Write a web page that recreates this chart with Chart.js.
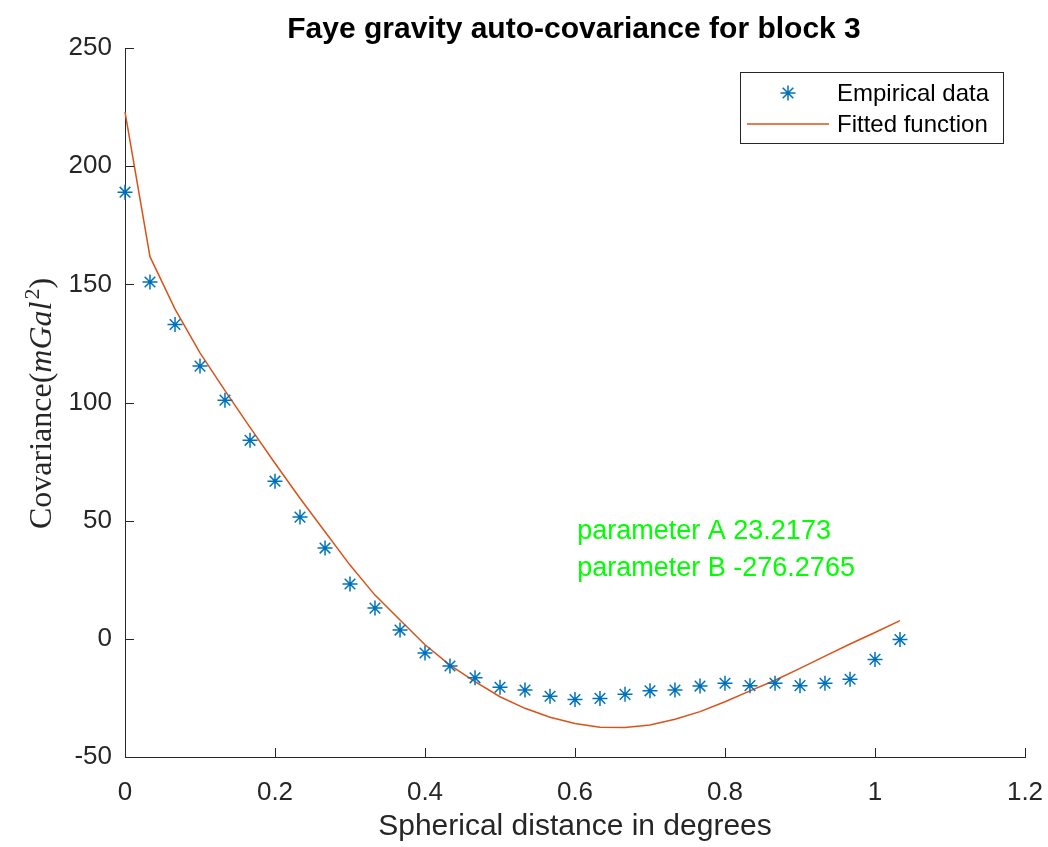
<!DOCTYPE html>
<html>
<head>
<meta charset="utf-8">
<script src="https://cdn.jsdelivr.net/npm/chart.js@4.4.1/dist/chart.umd.min.js"></script>
<style>
  html, body { margin: 0; padding: 0; background: #fff; }
  canvas { display: block; }
</style>
</head>
<body>
<canvas id="covChart" width="1048" height="847"></canvas>
<script>
// spherical distance (degrees)
const distance = [0, 0.0333, 0.0667, 0.1, 0.1333, 0.1667, 0.2, 0.2333, 0.2667, 0.3, 0.3333,
  0.3667, 0.4, 0.4333, 0.4667, 0.5, 0.5333, 0.5667, 0.6, 0.6333, 0.6667, 0.7, 0.7333,
  0.7667, 0.8, 0.8333, 0.8667, 0.9, 0.9333, 0.9667, 1.0, 1.0333];
// empirical covariance (mGal^2)
const empirical = [189, 151, 133, 115.4, 101, 84, 66.7, 51.5, 38.4, 23.2, 13,
  3.7, -6, -11.5, -16.5, -20.5, -21.7, -24.3, -25.7, -25.2, -23.5, -22, -21.7,
  -20, -18.8, -19.8, -18.8, -19.8, -18.8, -17.1, -8.7, -0.3];
// fitted covariance function
const fitted = [223, 161.7, 139.5, 121, 105, 89.5, 74.3, 59.5, 45.3, 31.2, 18.5,
  8, -2.5, -11.1, -18.1, -24.5, -29.4, -33.2, -35.8, -37.4, -37.5, -36.5, -34,
  -30.8, -26.6, -22, -17.5, -12.5, -7.3, -2.2, 2.7, 7.7];
const seriesNames = ['Empirical data', 'Fitted function'];
const params = ['parameter A 23.2173', 'parameter B -276.2765'];
const xTicks = [0, 0.2, 0.4, 0.6, 0.8, 1, 1.2];
const xTickLabels = ['0', '0.2', '0.4', '0.6', '0.8', '1', '1.2'];
const yTicks = [-50, 0, 50, 100, 150, 200, 250];

const AXIS = '#262626';
const toPoints = (ys) => distance.map((d, i) => ({ x: d, y: ys[i] }));

const extras = {
  id: 'extras',
  afterDraw(chart) {
    const { ctx, chartArea: a, scales: { x, y } } = chart;
    const ds = chart.data.datasets;
    ctx.save();

    // inward tick marks
    ctx.strokeStyle = AXIS;
    ctx.lineWidth = 1;
    xTicks.forEach(v => {
      const px = Math.round(x.getPixelForValue(v)) + 0.5;
      ctx.beginPath(); ctx.moveTo(px, a.bottom); ctx.lineTo(px, a.bottom - 9); ctx.stroke();
    });
    yTicks.forEach(v => {
      const py = Math.round(y.getPixelForValue(v)) + 0.5;
      ctx.beginPath(); ctx.moveTo(a.left, py); ctx.lineTo(a.left + 9, py); ctx.stroke();
    });

    // title
    ctx.fillStyle = '#000';
    ctx.font = 'bold 30px "Liberation Sans", Arial, sans-serif';
    ctx.textAlign = 'center';
    ctx.textBaseline = 'alphabetic';
    ctx.fillText('Faye gravity auto-covariance for block 3', (a.left + a.right) / 2 - 1, 38);

    // y axis label with math part
    const parts = [
      { t: 'Covariance(', f: '32px "Liberation Serif", serif', dy: 0 },
      { t: 'mGal', f: 'italic 32px "Liberation Serif", serif', dy: 0 },
      { t: '2', f: '22px "Liberation Serif", serif', dy: -12 },
      { t: ')', f: '32px "Liberation Serif", serif', dy: 0 }
    ];
    let total = 0;
    parts.forEach(p => { ctx.font = p.f; p.w = ctx.measureText(p.t).width; total += p.w; });
    ctx.translate(51, (a.top + a.bottom) / 2 + 2);
    ctx.rotate(-Math.PI / 2);
    ctx.fillStyle = AXIS;
    ctx.textAlign = 'left';
    let cx = -total / 2;
    parts.forEach(p => { ctx.font = p.f; ctx.fillText(p.t, cx, p.dy); cx += p.w + (p.t === 'mGal' ? 2 : 0); });
    ctx.setTransform(1, 0, 0, 1, 0, 0);

    // fit parameters
    ctx.fillStyle = '#00ff00';
    ctx.font = '27px "Liberation Sans", Arial, sans-serif';
    ctx.textAlign = 'left';
    ctx.textBaseline = 'middle';
    const tx = x.getPixelForValue(0.603);
    ctx.fillText(params[0], tx, y.getPixelForValue(45.5));
    ctx.fillText(params[1], tx, y.getPixelForValue(29.8));

    // legend
    const lx = 740, ly = 72, lw = 263, lh = 71;
    ctx.fillStyle = '#fff';
    ctx.fillRect(lx, ly, lw, lh);
    ctx.strokeStyle = AXIS;
    ctx.lineWidth = 1;
    ctx.strokeRect(lx + 0.5, ly + 0.5, lw, lh);
    ctx.strokeStyle = ds[0].borderColor;
    ctx.lineWidth = 1.5;
    Chart.helpers.drawPoint(ctx, { pointStyle: 'star', radius: 7.5, borderWidth: 1.5 }, 788, 93);
    ctx.strokeStyle = ds[1].borderColor;
    ctx.beginPath(); ctx.moveTo(747, 124); ctx.lineTo(829, 124); ctx.stroke();
    ctx.fillStyle = '#000';
    ctx.font = '24px "Liberation Sans", Arial, sans-serif';
    ctx.textBaseline = 'middle';
    ctx.fillText(seriesNames[0], 837, 94);
    ctx.fillText(seriesNames[1], 837, 125);

    ctx.restore();
  }
};

new Chart(document.getElementById('covChart'), {
  type: 'scatter',
  data: {
    datasets: [
      {
        label: seriesNames[0],
        data: toPoints(empirical),
        pointStyle: 'star',
        pointRadius: 7.5,
        pointHoverRadius: 7.5,
        borderColor: '#0072BD',
        backgroundColor: '#0072BD',
        borderWidth: 1.5,
        showLine: false,
        clip: false,
        order: 1
      },
      {
        label: seriesNames[1],
        data: toPoints(fitted),
        borderColor: '#D95319',
        borderWidth: 1.5,
        pointRadius: 0,
        showLine: true,
        tension: 0,
        clip: false,
        order: 2
      }
    ]
  },
  options: {
    responsive: false,
    animation: false,
    devicePixelRatio: 1,
    layout: { padding: { top: 48, right: 23, left: 0, bottom: 0 } },
    plugins: {
      legend: { display: false },
      title: { display: false },
      tooltip: { enabled: false }
    },
    scales: {
      x: {
        type: 'linear',
        min: 0,
        max: 1.2,
        afterBuildTicks: (s) => { s.ticks = xTicks.map(v => ({ value: v })); },
        afterFit: (s) => { s.height = 90; s.paddingLeft = 0; s.paddingRight = 0; },
        ticks: {
          color: AXIS,
          padding: 20,
          callback: (v, i) => xTickLabels[i],
          font: { family: '"Liberation Sans", Arial, sans-serif', size: 26 }
        },
        grid: { display: false, drawTicks: false },
        border: { display: true, color: AXIS, width: 1 },
        title: {
          display: true,
          text: 'Spherical distance in degrees',
          color: AXIS,
          padding: { top: 0, bottom: 2 },
          font: { family: '"Liberation Sans", Arial, sans-serif', size: 30 }
        }
      },
      y: {
        min: -50,
        max: 250,
        afterBuildTicks: (s) => { s.ticks = yTicks.map(v => ({ value: v })); },
        afterFit: (s) => { s.width = 125; s.paddingTop = 0; s.paddingBottom = 0; },
        ticks: {
          color: AXIS,
          padding: 13,
          font: { family: '"Liberation Sans", Arial, sans-serif', size: 26 }
        },
        grid: { display: false, drawTicks: false },
        border: { display: true, color: AXIS, width: 1 }
      }
    }
  },
  plugins: [extras]
});
</script>
</body>
</html>
